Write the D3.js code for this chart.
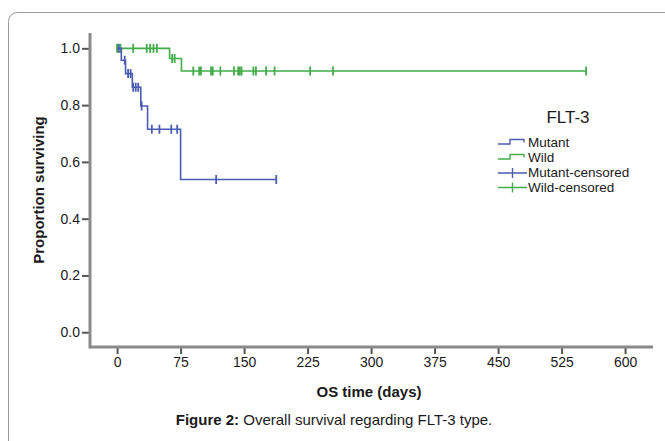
<!DOCTYPE html>
<html>
<head>
<meta charset="utf-8">
<script src="https://cdn.jsdelivr.net/npm/d3@7"></script>
<style>
  body { margin: 0; background: #fff; }
  text { font-family: "Liberation Sans", Arial, sans-serif; fill: #1a1a1a; }
</style>
</head>
<body>
<div id="chart"></div>
<script>
/*
 * Data.
 */
var xTicks = [0, 75, 150, 225, 300, 375, 450, 525, 600]
  , yTicks = [0, 0.2, 0.4, 0.6, 0.8, 1.0];

// Mutant group: event days and survival after each event
var mutantEventDays = [5, 10, 18, 28, 36, 75]
  , mutantSurvival = [0.958, 0.911, 0.863, 0.797, 0.715, 0.538]
  , mutantCensored = [2, 9, 13, 16, 19, 22, 25, 29, 41, 50, 64, 71, 117, 188]
  , mutantLastDay = 188;

// Wild group
var wildEventDays = [62, 76]
  , wildSurvival = [0.964, 0.92]
  , wildCensored = [0, 4, 19, 35, 39, 43, 47, 65, 68, 90, 97, 99, 111, 113, 122,
                    138, 143, 145, 147, 161, 164, 176, 186, 228, 255, 554]
  , wildLastDay = 554;

var legendTitle = "FLT-3"
  , legendNames = ["Mutant", "Wild", "Mutant-censored", "Wild-censored"];

var width = 665
  , height = 441
  , blue = "#4a5cb3"
  , green = "#42ad4a";

var svg = d3.select('#chart').append('svg')
  .attr('width', width)
  .attr('height', height);

// frame
svg.append('rect')
  .attr('x', 8.5).attr('y', 12.5)
  .attr('width', 700).attr('height', 500)
  .attr('rx', 9)
  .attr('fill', 'none')
  .attr('stroke', '#9a9a9a')
  .attr('stroke-width', 1);

/*
 * Scales, axis lines run a bit past the tick range like SPSS does.
 */
var x = d3.scaleLinear().domain([-32, 633]).range([90, 653]);
var y = d3.scaleLinear().domain([-0.052, 1.054]).range([347, 33]);

var xAxis = svg.append('g')
  .attr('transform', 'translate(0,347)')
  .call(d3.axisBottom(x).tickValues(xTicks).tickSize(7).tickPadding(3));

var yAxis = svg.append('g')
  .attr('transform', 'translate(90,0)')
  .call(d3.axisLeft(y).tickValues(yTicks).tickSize(8).tickPadding(2)
    .tickFormat(d3.format('.1f')));

[xAxis, yAxis].forEach(function(a) {
  a.select('.domain').remove();
  a.selectAll('.tick line').attr('stroke', '#555').attr('stroke-width', 2);
  a.selectAll('.tick text')
    .style('font-size', '14px')
    .style('font-family', '"Liberation Sans", Arial, sans-serif')
    .attr('fill', '#1a1a1a');
});

// thick gray axis lines
svg.append('line')
  .attr('x1', x.range()[0]).attr('x2', x.range()[1])
  .attr('y1', 347).attr('y2', 347)
  .attr('stroke', '#8a8a8a').attr('stroke-width', 3);
svg.append('line')
  .attr('x1', 90).attr('x2', 90)
  .attr('y1', y.range()[1]).attr('y2', 348.5)
  .attr('stroke', '#8a8a8a').attr('stroke-width', 3);

/*
 * Kaplan-Meier helpers.
 */
function survivalAt(days, surv, t) {
  var s = 1;
  for (var i = 0; i < days.length; i++) {
    if (days[i] <= t) s = surv[i];
  }
  return s;
}

function stepPoints(days, surv, last) {
  var pts = [[0, 1]];
  days.forEach(function(d, i) { pts.push([d, surv[i]]); });
  pts.push([last, surv[surv.length - 1]]);
  return pts;
}

var line = d3.line()
  .x(function(d) { return x(d[0]); })
  .y(function(d) { return y(d[1]); })
  .curve(d3.curveStepAfter);

function drawGroup(days, surv, censored, last, color) {
  svg.append('path')
    .datum(stepPoints(days, surv, last))
    .attr('d', line)
    .attr('fill', 'none')
    .attr('stroke', color)
    .attr('stroke-width', 1.6);

  svg.selectAll(null)
    .data(censored)
    .enter()
    .append('line')
    .attr('x1', function(d) { return x(d); })
    .attr('x2', function(d) { return x(d); })
    .attr('y1', function(d) { return y(survivalAt(days, surv, d)) - 4.5; })
    .attr('y2', function(d) { return y(survivalAt(days, surv, d)) + 4.5; })
    .attr('stroke', color)
    .attr('stroke-width', 1.8);
}

drawGroup(wildEventDays, wildSurvival, wildCensored, wildLastDay, green);
drawGroup(mutantEventDays, mutantSurvival, mutantCensored, mutantLastDay, blue);

/*
 * Axis titles and caption.
 */
svg.append('text')
  .attr('transform', 'translate(44,190) rotate(-90)')
  .attr('text-anchor', 'middle')
  .style('font-size', '15px')
  .style('font-weight', 'bold')
  .text('Proportion surviving');

svg.append('text')
  .attr('x', 369).attr('y', 397)
  .attr('text-anchor', 'middle')
  .style('font-size', '15px')
  .style('font-weight', 'bold')
  .text('OS time (days)');

var cap = svg.append('text')
  .attr('x', 334).attr('y', 425)
  .attr('text-anchor', 'middle')
  .style('font-size', '15px');
cap.append('tspan').style('font-weight', 'bold').text('Figure 2:');
cap.append('tspan').text(' Overall survival regarding FLT-3 type.');

/*
 * Legend.
 */
var legend = svg.append('g');

legend.append('text')
  .attr('x', 568).attr('y', 123)
  .attr('text-anchor', 'middle')
  .style('font-size', '17px')
  .text(legendTitle);

var legendColors = [blue, green, blue, green]
  , legendBase = [146.5, 161.5, 177, 191.5];

legendNames.forEach(function(name, i) {
  var cy = legendBase[i] - 4
    , c = legendColors[i];

  if (i < 2) {
    legend.append('path')
      .attr('d', 'M498,' + (cy + 1.5) + 'H510V' + (cy - 3) + 'H524V' + (cy))
      .attr('fill', 'none')
      .attr('stroke', c)
      .attr('stroke-width', 1.4);
  } else {
    legend.append('path')
      .attr('d', 'M498,' + cy + 'H527M512.5,' + (cy - 5) + 'V' + (cy + 5))
      .attr('fill', 'none')
      .attr('stroke', c)
      .attr('stroke-width', 1.4);
  }

  legend.append('text')
    .attr('x', 528).attr('y', legendBase[i])
    .style('font-size', '13.5px')
    .text(name);
});
</script>
</body>
</html>
